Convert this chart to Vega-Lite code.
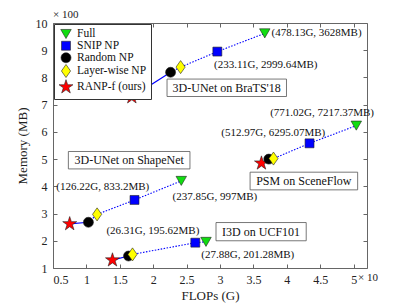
{
  "$schema": "https://vega.github.io/schema/vega-lite/v6.json",
  "width": 314,
  "height": 245,
  "autosize": {"type": "none"},
  "padding": {"left": 53, "top": 23, "right": 40, "bottom": 35},
  "background": "white",
  "config": {
    "font": "Liberation Serif",
    "view": {"stroke": "#666", "strokeWidth": 1},
    "axis": {
      "grid": false,
      "domainColor": "#666",
      "tickColor": "#666",
      "labelColor": "#222",
      "titleColor": "#222",
      "labelFontSize": 12,
      "titleFontSize": 13,
      "titleFontWeight": "normal",
      "tickSize": -4,
      "labelPadding": 10
    },
    "legend": {
      "orient": "top-left",
      "offset": 1,
      "padding": 4,
      "strokeColor": "#333",
      "fillColor": "white",
      "labelFontSize": 11.5,
      "labelColor": "#111",
      "rowPadding": -5,
      "labelOffset": 3,
      "symbolSize": 120,
      "symbolStrokeColor": "#222",
      "symbolStrokeWidth": 0.6,
      "cornerRadius": 0
    }
  },
  "datasets": {
    "pts": [
      {"model": "BraTS", "method": "RANP-f (ours)", "flops": 1.68, "mem": 7.28},
      {"model": "BraTS", "method": "Random NP", "flops": 2.26, "mem": 8.19},
      {"model": "BraTS", "method": "Layer-wise NP", "flops": 2.41, "mem": 8.38},
      {"model": "BraTS", "method": "SNIP NP", "flops": 2.96, "mem": 8.95},
      {"model": "BraTS", "method": "Full", "flops": 3.67, "mem": 9.62},
      {"model": "ShapeNet", "method": "RANP-f (ours)", "flops": 0.75, "mem": 2.62},
      {"model": "ShapeNet", "method": "Random NP", "flops": 1.03, "mem": 2.68},
      {"model": "ShapeNet", "method": "Layer-wise NP", "flops": 1.16, "mem": 2.97},
      {"model": "ShapeNet", "method": "SNIP NP", "flops": 1.72, "mem": 3.5},
      {"model": "ShapeNet", "method": "Full", "flops": 2.42, "mem": 4.2},
      {"model": "UCF101", "method": "RANP-f (ours)", "flops": 1.39, "mem": 1.29},
      {"model": "UCF101", "method": "Random NP", "flops": 1.63, "mem": 1.44},
      {"model": "UCF101", "method": "Layer-wise NP", "flops": 1.69, "mem": 1.5},
      {"model": "UCF101", "method": "SNIP NP", "flops": 2.63, "mem": 1.93},
      {"model": "UCF101", "method": "Full", "flops": 2.79, "mem": 1.96},
      {"model": "SceneFlow", "method": "RANP-f (ours)", "flops": 3.62, "mem": 4.85},
      {"model": "SceneFlow", "method": "Random NP", "flops": 3.73, "mem": 5.0},
      {"model": "SceneFlow", "method": "Layer-wise NP", "flops": 3.8, "mem": 5.02},
      {"model": "SceneFlow", "method": "SNIP NP", "flops": 4.34, "mem": 5.58},
      {"model": "SceneFlow", "method": "Full", "flops": 5.04, "mem": 6.23}
    ],
    "notes": [
      {"label": "(478.13G, 3628MB)", "x": 3.77, "y": 9.64},
      {"label": "(233.11G, 2999.64MB)", "x": 2.91, "y": 8.46},
      {"label": "(771.02G, 7217.37MB)", "x": 3.75, "y": 6.7},
      {"label": "(512.97G, 6295.07MB)", "x": 3.02, "y": 5.97},
      {"label": "(126.22G, 833.2MB)", "x": 0.55, "y": 3.99},
      {"label": "(237.85G, 997MB)", "x": 2.29, "y": 3.6},
      {"label": "(26.31G, 195.62MB)", "x": 1.3, "y": 2.37},
      {"label": "(27.88G, 201.28MB)", "x": 2.72, "y": 1.48}
    ],
    "boxes": [
      {"label": "3D-UNet on BraTS'18", "x1": 2.207, "x2": 3.995, "y1": 7.3, "y2": 7.94, "cx": 3.1, "cy": 7.62},
      {"label": "3D-UNet on ShapeNet", "x1": 0.73, "x2": 2.55, "y1": 4.64, "y2": 5.28, "cx": 1.64, "cy": 4.96},
      {"label": "PSM on SceneFlow", "x1": 3.45, "x2": 5.06, "y1": 3.87, "y2": 4.52, "cx": 4.255, "cy": 4.195},
      {"label": "I3D on UCF101", "x1": 2.94, "x2": 4.29, "y1": 2.0, "y2": 2.67, "cx": 3.615, "cy": 2.335}
    ],
    "mult": [
      {"label": "× 100", "x": 0.5, "y": 10, "pos": "top"},
      {"label": "× 10", "x": 5.2, "y": 1, "pos": "bottom"}
    ]
  },
  "layer": [
    {
      "data": {"name": "boxes"},
      "mark": {"type": "rect", "fill": "white", "stroke": "#555", "strokeWidth": 0.8},
      "encoding": {
        "x": {"field": "x1", "type": "quantitative", "scale": {"domain": [0.5, 5.2], "nice": false, "zero": false}, "axis": {"orient": "top", "labels": false, "title": null, "values": [0.5, 1, 1.5, 2, 2.5, 3, 3.5, 4, 4.5, 5], "domain": false}},
        "x2": {"field": "x2"},
        "y": {"field": "y1", "type": "quantitative", "scale": {"domain": [1, 10], "nice": false, "zero": false}, "axis": {"orient": "right", "labels": false, "title": null, "values": [1, 2, 3, 4, 5, 6, 7, 8, 9, 10], "domain": false}},
        "y2": {"field": "y2"}
      }
    },
    {
      "data": {"name": "boxes"},
      "mark": {"type": "text", "fontSize": 12, "color": "#111", "align": "center", "baseline": "middle"},
      "encoding": {
        "x": {"field": "cx", "type": "quantitative", "scale": {"domain": [0.5, 5.2], "nice": false, "zero": false}, "axis": null},
        "y": {"field": "cy", "type": "quantitative", "scale": {"domain": [1, 10], "nice": false, "zero": false}, "axis": null},
        "text": {"field": "label"}
      }
    },
    {
      "data": {"name": "pts"},
      "transform": [{"filter": "datum.method == 'RANP-f (ours)' || datum.method == 'Random NP'"}],
      "mark": {"type": "line", "color": "#0000ff", "strokeWidth": 1.2},
      "encoding": {
        "x": {"field": "flops", "type": "quantitative", "scale": {"domain": [0.5, 5.2], "nice": false, "zero": false}, "axis": null},
        "y": {"field": "mem", "type": "quantitative", "scale": {"domain": [1, 10], "nice": false, "zero": false}, "axis": null},
        "detail": {"field": "model"},
        "order": {"field": "flops"}
      }
    },
    {
      "data": {"name": "pts"},
      "transform": [{"filter": "datum.method != 'RANP-f (ours)'"}],
      "mark": {"type": "line", "color": "#0000ff", "strokeWidth": 1.1, "strokeDash": [1.5, 1.5]},
      "encoding": {
        "x": {"field": "flops", "type": "quantitative", "scale": {"domain": [0.5, 5.2], "nice": false, "zero": false}, "axis": null},
        "y": {"field": "mem", "type": "quantitative", "scale": {"domain": [1, 10], "nice": false, "zero": false}, "axis": null},
        "detail": {"field": "model"},
        "order": {"field": "flops"}
      }
    },
    {
      "data": {"name": "pts"},
      "mark": {"type": "point", "filled": true, "opacity": 1, "stroke": "#222", "strokeWidth": 0.6},
      "encoding": {
        "x": {"field": "flops", "type": "quantitative", "title": "FLOPs (G)", "scale": {"domain": [0.5, 5.2], "nice": false, "zero": false}, "axis": {"values": [0.5, 1, 1.5, 2, 2.5, 3, 3.5, 4, 4.5, 5], "labelExpr": "'' + datum.value", "domain": false, "titlePadding": 4}},
        "y": {"field": "mem", "type": "quantitative", "title": "Memory (MB)", "scale": {"domain": [1, 10], "nice": false, "zero": false}, "axis": {"values": [1, 2, 3, 4, 5, 6, 7, 8, 9, 10], "labelExpr": "'' + datum.value", "domain": false, "titlePadding": 6}},
        "color": {
          "field": "method",
          "type": "nominal",
          "scale": {"domain": ["Full", "SNIP NP", "Random NP", "Layer-wise NP", "RANP-f (ours)"], "range": ["#11dd11", "#0000ff", "#000000", "#ffff00", "#ff0000"]},
          "legend": {
            "title": null,
            "encode": {
              "symbols": {
                "update": {
                  "size": {"signal": "datum.value === 'RANP-f (ours)' ? 190 : datum.value === 'Layer-wise NP' ? 150 : datum.value === 'Full' ? 105 : datum.value === 'SNIP NP' ? 75 : 95"}
                }
              }
            }
          }
        },
        "shape": {
          "field": "method",
          "type": "nominal",
          "scale": {"domain": ["Full", "SNIP NP", "Random NP", "Layer-wise NP", "RANP-f (ours)"], "range": ["triangle-down", "square", "circle", "M0,-1L0.7,0L0,1L-0.7,0Z", "M0,-1L0.2245,-0.309L0.9511,-0.309L0.3633,0.118L0.5878,0.809L0,0.382L-0.5878,0.809L-0.3633,0.118L-0.9511,-0.309L-0.2245,-0.309Z"]},
          "legend": {"title": null}
        },
        "size": {
          "field": "method",
          "type": "nominal",
          "scale": {"type": "ordinal", "domain": ["Full", "SNIP NP", "Random NP", "Layer-wise NP", "RANP-f (ours)"], "range": [110, 80, 100, 170, 215]},
          "legend": null
        }
      }
    },
    {
      "data": {"name": "notes"},
      "mark": {"type": "text", "fontSize": 11, "color": "#111", "align": "left", "baseline": "middle"},
      "encoding": {
        "x": {"field": "x", "type": "quantitative", "scale": {"domain": [0.5, 5.2], "nice": false, "zero": false}, "axis": null},
        "y": {"field": "y", "type": "quantitative", "scale": {"domain": [1, 10], "nice": false, "zero": false}, "axis": null},
        "text": {"field": "label"}
      }
    },
    {
      "data": {"name": "mult"},
      "transform": [{"filter": "datum.pos == 'top'"}],
      "mark": {"type": "text", "fontSize": 11, "color": "#222", "align": "left", "baseline": "middle", "dy": -8, "clip": false},
      "encoding": {
        "x": {"field": "x", "type": "quantitative", "scale": {"domain": [0.5, 5.2], "nice": false, "zero": false}, "axis": null},
        "y": {"field": "y", "type": "quantitative", "scale": {"domain": [1, 10], "nice": false, "zero": false}, "axis": null},
        "text": {"field": "label"}
      }
    },
    {
      "data": {"name": "mult"},
      "transform": [{"filter": "datum.pos == 'bottom'"}],
      "mark": {"type": "text", "fontSize": 11, "color": "#222", "align": "left", "baseline": "middle", "dx": -9, "dy": 10, "clip": false},
      "encoding": {
        "x": {"field": "x", "type": "quantitative", "scale": {"domain": [0.5, 5.2], "nice": false, "zero": false}, "axis": null},
        "y": {"field": "y", "type": "quantitative", "scale": {"domain": [1, 10], "nice": false, "zero": false}, "axis": null},
        "text": {"field": "label"}
      }
    }
  ],
  "resolve": {"axis": {"x": "independent", "y": "independent"}}
}
